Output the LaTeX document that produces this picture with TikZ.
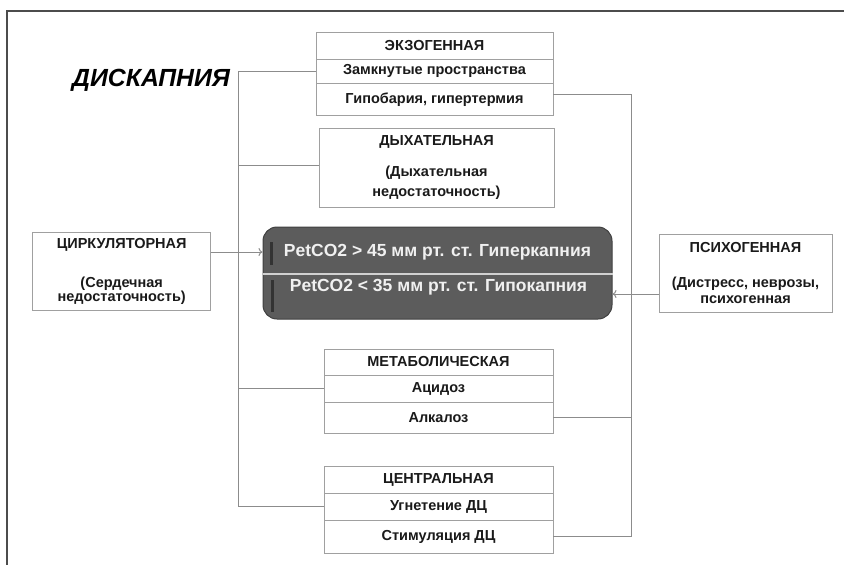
\documentclass[tikz,border=0pt]{standalone}
\usepackage{fontspec}
\setmainfont{Liberation Sans}
\usetikzlibrary{arrows.meta}
\definecolor{linec}{HTML}{8C8C8C}
\definecolor{boxc}{HTML}{A0A0A0}
\definecolor{darkf}{HTML}{5C5C5C}
\definecolor{txt}{HTML}{1A1A1A}
\begin{document}
\begin{tikzpicture}[x=1pt,y=-1pt,
  box/.style={draw=boxc, line width=0.9pt, fill=white, inner sep=0pt, align=center, text=txt, font=\bfseries\fontsize{14.5}{14}\selectfont},
  conn/.style={draw=linec, line width=1pt},
  arr/.style={conn, -{To[length=4pt,width=8pt]}},
  hot/.style={text=white!94!black, font=\bfseries\fontsize{17.5}{19}\selectfont, inner sep=0pt, anchor=base}]
\useasboundingbox (0,0) rectangle (844,565);
\fill[white] (0,0) rectangle (844,565);
\draw[color=black!70, line width=1.6pt] (7,565) -- (7,10.7) -- (844,10.7);

\node[font=\bfseries\itshape\fontsize{24.8}{28}\selectfont, anchor=west, inner sep=0pt] (title) at (72,80) {ДИСКАПНИЯ};

% exogenous
\node[box, minimum width=237pt, minimum height=27pt] (exo1) at (434.5,45.8) {ЭКЗОГЕННАЯ};
\node[box, minimum width=237pt, minimum height=24pt] (exo2) at (434.5,71.3) {Замкнутые пространства};
\node[box, minimum width=237pt, minimum height=32.4pt] (exo3) at (434.5,99.5) {Гипобария, гипертермия};

% respiratory
\node[box, minimum width=235pt, minimum height=79pt] (dyh) at (436.5,167.5) {ДЫХАТЕЛЬНАЯ\\[17pt](Дыхательная\\[6pt]недостаточность)};

% central dark box
\node[draw=black!75, fill=darkf, rounded corners=14pt, minimum width=349pt, minimum height=92pt, line width=1pt, inner sep=0pt] (dark) at (437.5,273) {};
\draw[color=black!18, line width=2pt] (dark.west |- 0,274) -- (dark.east |- 0,274);
\node[hot] (hyper) at (437.5,256) {PetCO2 > 45 мм рт. ст. Гиперкапния};
\node[hot] (hypo) at (438.5,291) {PetCO2 < 35 мм рт. ст. Гипокапния};
\draw[color=black!80, line width=3pt] (271.7,242) -- (271.7,265);
\draw[color=black!80, line width=3pt] (272,280) -- (272,312);

% side boxes
\node[box, minimum width=178pt, minimum height=78pt] (circ) at (121.7,271.7) {ЦИРКУЛЯТОРНАЯ\\[25pt](Сердечная\\недостаточность)};
\node[box, minimum width=173pt, minimum height=78.7pt] (psy) at (745.5,273.4) {ПСИХОГЕННАЯ\\[21pt](Дистресс, неврозы,\\[2pt]психогенная};

% metabolic
\node[box, minimum width=229pt, minimum height=26pt] (met1) at (438.5,362) {МЕТАБОЛИЧЕСКАЯ};
\node[box, minimum width=229pt, minimum height=27pt] (met2) at (438.5,388.5) {Ацидоз};
\node[box, minimum width=229pt, minimum height=31pt] (met3) at (438.5,417.5) {Алкалоз};

% central
\node[box, minimum width=229pt, minimum height=27pt] (cen1) at (438.5,479.5) {ЦЕНТРАЛЬНАЯ};
\node[box, minimum width=229pt, minimum height=27pt] (cen2) at (438.5,506.5) {Угнетение ДЦ};
\node[box, minimum width=229pt, minimum height=33pt] (cen3) at (438.5,536.5) {Стимуляция ДЦ};

% connectors
\coordinate (busL) at (238,0);
\coordinate (busR) at (631,0);
\draw[conn] (exo2.west) -- (exo2.west -| busL) -- (cen2.west -| busL) -- (cen2.west);
\draw[conn] ([yshift=2.5pt]dyh.west -| busL) -- ([yshift=2.5pt]dyh.west);
\draw[conn] (met2.west -| busL) -- (met2.west);
\draw[conn] ([yshift=5pt]exo3.east) -- ([yshift=5pt]exo3.east -| busR) -- (cen3.east -| busR) -- (cen3.east);
\draw[conn] (met3.east) -- (met3.east -| busR);

\coordinate (aL) at (0,252);
\coordinate (aR) at (0,294);
\draw[arr] (circ.east |- aL) -- (dark.west |- aL);
\draw[arr] (psy.west |- aR) -- (dark.east |- aR);
\end{tikzpicture}
\end{document}
